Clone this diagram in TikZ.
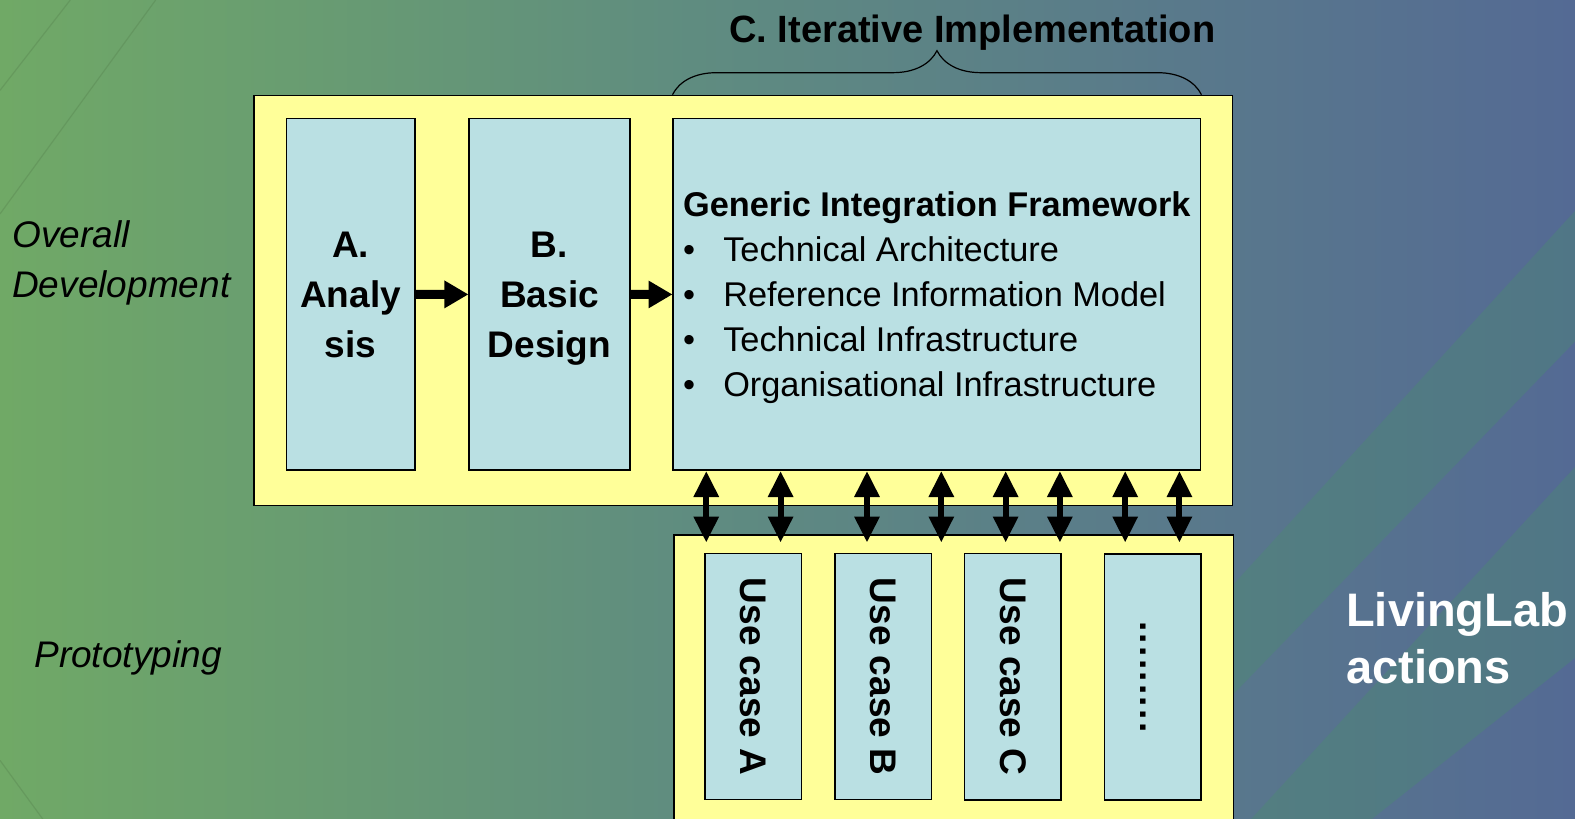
\documentclass[tikz,border=0pt]{standalone}
\usepackage{fontspec}
\setmainfont{Liberation Sans}
\usetikzlibrary{arrows.meta, decorations.pathreplacing}
\definecolor{bgleft}{HTML}{70A966}
\definecolor{bgmid}{HTML}{5F8C80}
\definecolor{bgright}{HTML}{546A94}
\definecolor{bandgreen}{HTML}{4A8E6C}
\definecolor{framecolor}{HTML}{FFFF99}
\definecolor{stagecolor}{HTML}{BAE0E3}
\pgfdeclarehorizontalshading{bgshade}{100bp}{color(0bp)=(bgleft); color(25bp)=(bgleft);
    color(47bp)=(bgmid); color(75bp)=(bgright); color(100bp)=(bgright)}
\newcommand{\bigfont}{\fontsize{37}{50}\selectfont}
\newcommand{\listfont}{\fontsize{34.3}{45}\selectfont}
\newcommand{\bul}{\makebox[40bp][l]{•}}
\newcommand{\moredots}{.\kern2.3bp.\kern2.3bp.\kern2.3bp.\kern2.3bp.\kern2.3bp.\kern2.3bp.\kern2.3bp.\kern2.3bp.\vphantom{U}}
\tikzstyle{frame} = [rectangle, draw=black, fill=framecolor, line width=1.5bp, inner sep=0pt]
\tikzstyle{stage} = [rectangle, draw=black, fill=stagecolor, line width=1.5bp, inner sep=0pt,
    font=\bigfont\bfseries, align=center]
\tikzstyle{phase} = [stage, text depth=-18bp, minimum height=350bp]
\tikzstyle{usecase} = [stage, minimum width=96bp, minimum height=245bp]
\tikzstyle{sidelabel} = [anchor=west, align=left, inner sep=0pt, font=\bigfont\itshape]
\tikzstyle{fatarrow} = [line width=9bp, -{Triangle[length=24bp, width=26bp]}]
\tikzstyle{dblarr} = [line width=6bp, {Triangle[length=26bp, width=24bp]}-{Triangle[length=26bp, width=24bp]}]

\begin{document}
\begin{tikzpicture}[x=1bp, y=-1bp, scale=1.00446, every node/.append style={transform shape}]

        \useasboundingbox (0,0) rectangle (1568,815.35);
        \fill [shading=bgshade] (0,0) rectangle (1568,815.35);

        % background bands and streaks
        \fill [bandgreen, opacity=0.35]
            (1225,585) -- (1568,210) -- (1568,340) -- (1225,694) -- cycle;
        \fill [bandgreen, opacity=0.35]
            (1245,816) -- (1568,465) -- (1568,655) -- (1365,816) -- cycle;
        \draw [bgleft!75!black, opacity=0.35, line width=1.2bp]
            (0,90) -- (70,0) (0,213) -- (155,0) (0,757) -- (43,816);

        % OVERALL DEVELOPMENT ====
        \node (devframe) [frame, minimum width=974bp, minimum height=408bp]
            at (740,299) {} ;

        \node (analysis) [phase, minimum width=128bp]
            at (349,293) {A.\\Analy\\sis} ;
        \node (design)
            [phase, right of=analysis, node distance=198bp, minimum width=160bp]
            {B.\\Basic\\Design} ;
        \node (gif)
            [phase, right of=design, node distance=385.5bp, minimum width=525bp,
             font=\listfont, align=left]
            {\textbf{Generic Integration Framework}\\
             \bul Technical Architecture\\
             \bul Reference Information Model\\
             \bul Technical Infrastructure\\
             \bul Organisational Infrastructure} ;

        \draw [decorate, decoration={brace, amplitude=44bp, aspect=0.5},
               line width=1.2bp]
            (gif.west |- devframe.north) -- (gif.east |- devframe.north) ;
        \node (itertitle) [font=\fontsize{38}{45}\selectfont\bfseries]
            at (968,33) {C. Iterative Implementation} ;

        % PROTOTYPING ====
        \node (proto) [frame, anchor=north west, minimum width=557bp,
            minimum height=300bp] at (670,532) {} ;

        \node (ucA) [usecase] at (750,673.5) {\rotatebox{-90}{Use case A}} ;
        \node (ucB) [usecase, right of=ucA, node distance=129bp]
            {\rotatebox{-90}{Use case B}} ;
        \node (ucC) [usecase, right of=ucB, node distance=129bp]
            {\rotatebox{-90}{Use case C}} ;
        \node (ucmore) [usecase, right of=ucC, node distance=139bp]
            {\rotatebox{-90}{\moredots}} ;

        % side labels
        \node (overall) [sidelabel] at (12,262) {Overall\\Development} ;
        \node (prototyping) [sidelabel] at (34,655) {Prototyping} ;
        \node (livinglab) [sidelabel, text=white,
            font=\fontsize{47}{57}\selectfont\bfseries]
            at (1340,635) {LivingLab\\actions} ;

        % arrows
        \draw [fatarrow] (analysis) -- (design) ;
        \draw [fatarrow] (design) -- (gif) ;

        \foreach \x in {703,777,863,937,1001,1055,1120,1174} {
            \coordinate (tap) at (\x,540) ;
            \draw [dblarr] (gif.south -| tap) -- (tap) ;
        }

\end{tikzpicture}
\end{document}
